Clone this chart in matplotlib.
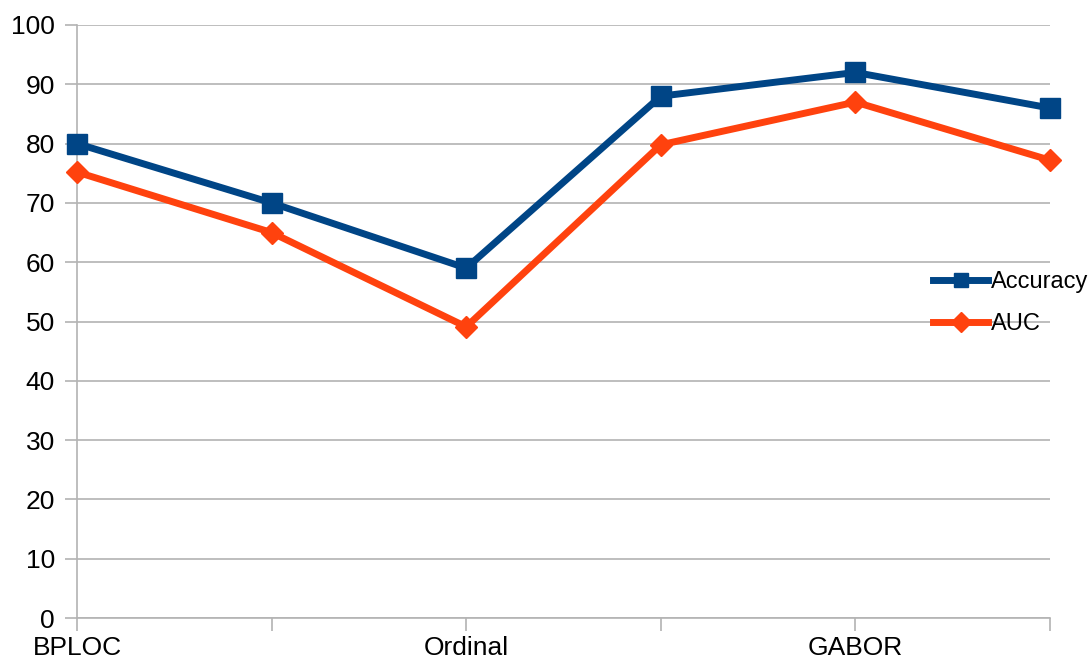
import matplotlib.pyplot as plt
import numpy as np

plt.rcParams['font.family'] = ['Liberation Sans', 'DejaVu Sans']

# categories (only every other one is labelled in the original)
categories = ['BPLOC', '', 'Ordinal', '', 'GABOR', '']
accuracy = [80, 70, 59, 88, 92, 86]
auc = [75.2, 65.0, 49.1, 79.8, 87.0, 77.2]

blue = '#004586'
orange = '#ff420e'
grey = '#b3b3b3'

fig = plt.figure(figsize=(10.92, 6.62), dpi=100)
ax = fig.add_axes([77 / 1092, 44 / 662, 973 / 1092, 593 / 662])

x = np.arange(len(categories))
ax.plot(x, accuracy, color=blue, lw=5, marker='s', ms=15, label='Accuracy',
        clip_on=False, zorder=3)
ax.plot(x, auc, color=orange, lw=5, marker='D', ms=11, label='AUC',
        clip_on=False, zorder=3)

ax.set_xlim(0, 5)
ax.set_ylim(0, 100)
ax.set_yticks(np.arange(0, 101, 10))
ax.set_xticks(x)
ax.set_xticklabels(categories)

ax.grid(axis='y', color=grey, lw=1.2)
ax.set_axisbelow(True)
for s in ['top', 'right']:
    ax.spines[s].set_visible(False)
for s in ['left', 'bottom']:
    ax.spines[s].set_color(grey)
    ax.spines[s].set_linewidth(1.2)

ax.tick_params(axis='y', length=9, color=grey, width=1.2, labelsize=19, pad=7)
ax.tick_params(axis='x', length=9, color=grey, width=1.2, labelsize=19, pad=4)

leg = ax.legend(loc='center left', bbox_to_anchor=(924 / 1092, 1 - 303 / 662),
                bbox_transform=fig.transFigure, frameon=False, fontsize=17,
                handlelength=2.3, handletextpad=0.15, labelspacing=0.85,
                borderaxespad=0)
for h in leg.legend_handles:
    h.set_markersize(10)

fig.savefig('out.png', dpi=100)
